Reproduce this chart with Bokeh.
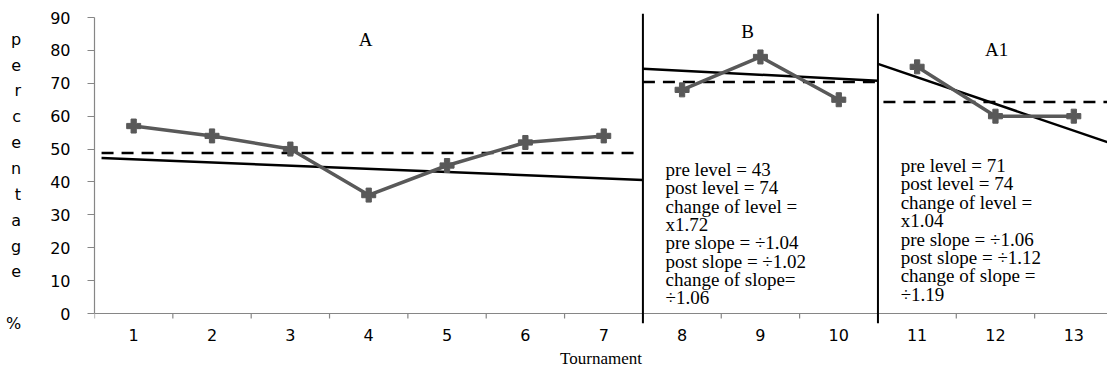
from bokeh.plotting import figure
from bokeh.models import Range1d, FixedTicker, Span, Label
from bokeh.core.properties import value
from bokeh.embed import file_html
from bokeh.resources import INLINE

# ---------------- data ----------------
tournament = [1, 2, 3, 4, 5, 6, 7, 8, 9, 10, 11, 12, 13]
percent = [57, 54, 50, 36, 45, 52, 54, 68, 78, 65, 75, 60, 60]
phase_names = ["A", "B", "A1"]
phase_slices = [(0, 7), (7, 10), (10, 13)]
phase_bounds = [7.5, 10.5]

# trend lines (solid) per phase
trend_x0 = [0.59, 7.5, 10.5]
trend_y0 = [47.3, 74.4, 75.9]
trend_x1 = [7.5, 10.5, 13.43]
trend_y1 = [40.6, 70.8, 52.1]
# level (mean) lines (dashed) per phase
mean_x0 = [0.59, 7.5, 10.57]
mean_x1 = [7.44, 10.5, 13.43]
mean_y = [48.8, 70.4, 64.3]

y_ticks = [0, 10, 20, 30, 40, 50, 60, 70, 80, 90]
ylabel_letters = ["p", "e", "r", "c", "e", "n", "t", "a", "g", "e"]
ylabel_unit = "%"
x_title = "Tournament"

stats_B = ["pre level  = 43", "post level = 74", "change of level =", "x1.72",
           "pre slope = \u00f71.04", "post slope = \u00f71.02", "change of slope=", "\u00f71.06"]
stats_A1 = ["pre level  = 71", "post level  = 74", "change of  level =", "x1.04",
            "pre slope = \u00f71.06", "post slope = \u00f71.12", "change of slope =", "\u00f71.19"]

# ---------------- layout helpers ----------------
PX_PER_Y = 3.289
Y0_PX = 313.0   # page pixel of y = 0
PX_PER_X = 78.33
X0_PX = 94.0    # page pixel of x = 0.5


def ydat(px):
    return (Y0_PX - px) / PX_PER_Y


def xdat(px):
    return 0.5 + (px - X0_PX) / PX_PER_X


GRAY = "#595959"
AXIS = "#868686"
SERIF = "Liberation Serif"
SANS = "DejaVu Sans"

p = figure(width=1107, height=371,
           x_range=Range1d(0.5, 13.43), y_range=Range1d(-3.04, 91.22),
           output_backend="svg", toolbar_location=None,
           min_border_left=94, min_border_right=0, min_border_top=13, min_border_bottom=48)
p.xgrid.visible = False
p.ygrid.visible = False
p.outline_line_color = None
p.background_fill_color = "white"
p.border_fill_color = "white"

# x axis: labels only (axis line & ticks drawn at y = 0 below)
xa = p.xaxis[0]
xa.ticker = FixedTicker(ticks=tournament)
xa.axis_line_color = None
xa.major_tick_line_color = None
xa.minor_tick_line_color = None
xa.major_tick_out = 0
xa.major_tick_in = 0
xa.major_label_text_font = SANS
xa.major_label_text_font_size = "16px"
xa.major_label_text_color = "black"
xa.major_label_standoff = 5
xa.axis_label = x_title
xa.axis_label_text_font = SERIF
xa.axis_label_text_font_size = "17px"
xa.axis_label_text_font_style = "normal"
xa.axis_label_text_color = "black"
xa.axis_label_standoff = 5

# y axis
ya = p.yaxis[0]
ya.ticker = FixedTicker(ticks=y_ticks)
ya.bounds = (0, 90)
ya.axis_line_color = AXIS
ya.axis_line_width = 1.2
ya.major_tick_line_color = AXIS
ya.major_tick_out = 7
ya.major_tick_in = 0
ya.minor_tick_line_color = None
ya.major_label_text_font = SANS
ya.major_label_text_font_size = "16px"
ya.major_label_text_color = "black"
ya.major_label_standoff = 17
ya.axis_label = "\n".join([" "] + ylabel_letters + [" ", ylabel_unit])
ya.axis_label_orientation = "horizontal"
ya.axis_label_text_font = SANS
ya.axis_label_text_font_size = "16px"
ya.axis_label_text_font_style = "normal"
ya.axis_label_text_color = "black"
ya.axis_label_text_line_height = 1.36
ya.axis_label_standoff = 26

# x axis line at y = 0 with ticks at category boundaries
p.add_layout(Span(location=0, dimension="width", line_color=AXIS, line_width=1.2))
bounds = [t - 0.5 for t in tournament] + [tournament[-1] + 0.5]
p.segment(x0=bounds, y0=[0] * len(bounds), x1=bounds, y1=[-5 / PX_PER_Y] * len(bounds),
          line_color=AXIS, line_width=1.2)

# level (dashed) and trend (solid) lines
p.segment(x0=mean_x0, y0=mean_y, x1=mean_x1, y1=mean_y,
          line_color="black", line_width=2.5, line_dash="12 8")
p.segment(x0=trend_x0, y0=trend_y0, x1=trend_x1, y1=trend_y1,
          line_color="black", line_width=2.5)

# data series, broken at phase changes
for a, b in phase_slices:
    xs = tournament[a:b]
    ys = percent[a:b]
    p.line(xs, ys, line_color=GRAY, line_width=3.5)
    p.scatter(xs, ys, marker="plus", size=14, fill_color=GRAY, line_color=GRAY)

# phase change lines
for b in phase_bounds:
    p.add_layout(Span(location=b, dimension="height", line_color="black", line_width=2))

# phase names
name_pos = [(365, 39), (747, 31), (996, 49)]
for name, (px, py) in zip(phase_names, name_pos):
    p.add_layout(Label(x=xdat(px), y=ydat(py), text=name, text_font=SERIF,
                       text_font_size="19px", text_align="center", text_baseline="middle",
                       text_color="black"))

# statistics text blocks
for lines, x_px, y_px, step in [(stats_B, 665, 169, 18.3), (stats_A1, 900, 165, 18.4)]:
    p.text(x=[xdat(x_px)] * len(lines), y=[ydat(y_px + i * step) for i in range(len(lines))],
           text=lines, text_font=value(SERIF), text_font_size="19px",
           text_baseline="middle", text_align="left", text_color="black")

open("out.html", "w").write(file_html(p, INLINE))
